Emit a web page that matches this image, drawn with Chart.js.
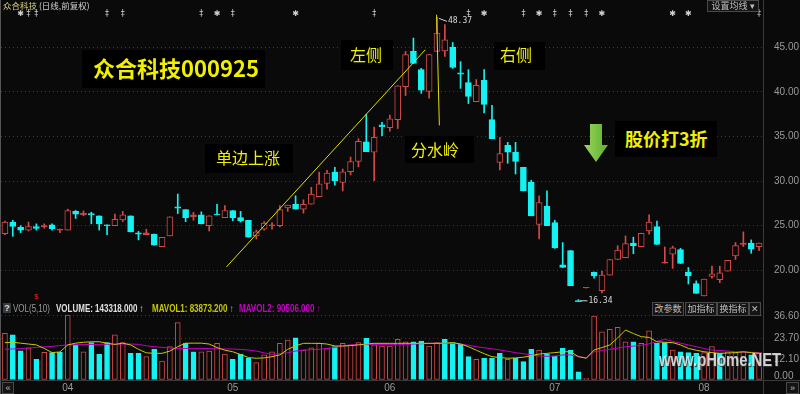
<!DOCTYPE html>
<html lang="zh">
<head>
<meta charset="utf-8">
<title>众合科技 000925</title>
<script src="https://cdn.jsdelivr.net/npm/chart.js@4.4.1/dist/chart.umd.min.js"></script>
<style>
  html, body { margin: 0; padding: 0; background: #0a0a0a; }
  #wrap { position: relative; width: 800px; height: 394px; overflow: hidden; background: #0a0a0a;
          font-family: "Liberation Sans", Arial, sans-serif; }
  #wrap canvas { position: absolute; left: 0; }
  #precio { top: 0; }
  #volumen { top: 300px; }
  .txt { position: absolute; white-space: nowrap; line-height: 1; }
  .cjk { font-family: "Noto Sans CJK SC", sans-serif; }
  .caja { position: absolute; background: #000; }
  .amarillo { color: #f0f000; }
  .btn { position: absolute; top: 302px; height: 12px; border: 1px solid #4a4a4a; background: #141414;
         color: #bdbdbd; font: 9px "Noto Sans CJK SC", sans-serif; line-height: 12px; text-align: center; }
  .linea { position: absolute; background: #3a3a3a; }
  .volhdr { position: absolute; top: 304px; font: bold 10px "Liberation Sans", Arial, sans-serif;
            white-space: nowrap; line-height: 10px; transform: scaleX(0.8); transform-origin: left top; }
</style>
</head>
<body>
<div id="wrap">
  <canvas id="precio" width="800" height="310"></canvas>
  <canvas id="volumen" width="800" height="94"></canvas>

  <!-- marco -->
  <div class="linea" style="left:763px; top:0; width:1px; height:394px;"></div>
  <div class="linea" style="left:0; top:0; width:1px; height:394px; background:#555;"></div>
  <div class="linea" style="left:0; top:380px; width:800px; height:1px;"></div>

  <!-- cabecera -->
  <div class="txt cjk" style="left:3px; top:1px; font-size:8.5px; color:#d6d27a;">众合科技 <span style="color:#cfcfcf;">(日线,前复权)</span></div>
  <div class="btn" style="left:707px; top:0; width:50px; height:10px; line-height:10px;">设置均线 ▾</div>

  <!-- anotaciones -->
  <div class="caja" style="left:82px; top:50px; width:183px; height:38px;"></div>
  <div class="txt cjk amarillo" style="left:93px; top:56px; font-size:22px; font-weight:bold;">众合科技000925</div>
  <div class="caja" style="left:341px; top:40px; width:52px; height:30px;"></div>
  <div class="txt cjk amarillo" style="left:350px; top:46px; font-size:16px;">左侧</div>
  <div class="caja" style="left:494px; top:42px; width:51px; height:28px;"></div>
  <div class="txt cjk amarillo" style="left:500px; top:46px; font-size:16px;">右侧</div>
  <div class="caja" style="left:205px; top:144px; width:88px; height:29px;"></div>
  <div class="txt cjk amarillo" style="left:216px; top:149px; font-size:16px;">单边上涨</div>
  <div class="caja" style="left:405px; top:136px; width:69px; height:27px;"></div>
  <div class="txt cjk amarillo" style="left:411px; top:141px; font-size:16px;">分水岭</div>
  <div class="caja" style="left:615px; top:121px; width:102px; height:36px;"></div>
  <div class="txt cjk amarillo" style="left:625px; top:129px; font-size:18px; font-weight:bold;">股价打3折</div>
  <svg style="position:absolute; left:584px; top:124px;" width="25" height="40">
    <defs><linearGradient id="g" x1="0" x2="1"><stop offset="0" stop-color="#9ad65a"/><stop offset="1" stop-color="#5fae2e"/></linearGradient></defs>
    <polygon points="6,0 18,0 18,21 24,21 12,38 0,21 6,21" fill="url(#g)"/>
  </svg>

  <!-- cabecera de volumen -->
  <div class="txt" style="left:3px; top:303px; width:8px; height:10px; background:#3a3a3a; color:#ddd; text-align:center; font:bold 9px 'Liberation Sans'; line-height:10px;">?</div>
  <div class="volhdr" style="left:13px; color:#9a9a9a; font-weight:normal;">VOL(5,10)</div>
  <div class="volhdr" style="left:56px; color:#e0e0e0;">VOLUME: 143318.000 ↑</div>
  <div class="volhdr" style="left:152px; color:#c8c800;">MAVOL1: 83873.200 ↑</div>
  <div class="volhdr" style="left:239px; color:#c800c8;">MAVOL2: 90506.000 ↑</div>
  <div class="btn" style="left:652px; width:30px;">改参数</div>
  <div class="btn" style="left:685px; width:30px;">加指标</div>
  <div class="btn" style="left:717px; width:30px;">换指标</div>
  <div class="btn" style="left:749px; width:10px; font-family:'Liberation Sans';">✕</div>
  <div class="txt" style="left:774px; top:371px; font-size:10px; color:#9a9a9a;">0.00</div>
  <div class="txt" style="left:659px; top:349px; font:bold 19px 'Liberation Sans',sans-serif; color:rgba(255,255,255,0.78); text-shadow:1px 1px 1px #333; transform:scaleX(0.78); transform-origin:left top;">www.pHome.NET</div>

  <!-- botones inferiores -->
  <div class="btn" style="left:2px; top:382px; width:10px; height:10px; line-height:10px; font-family:'Liberation Sans';">«</div>
  <div class="btn" style="left:786px; top:382px; width:11px; height:10px; line-height:10px; font-family:'Liberation Sans';">»</div>
</div>

<script>
// --- DATOS ---
const mesEtiquetas = ['04', '05', '06', '07', '08'];
const mesIndices = [8, 29, 49, 70, 89];

const aperturas = [
  24.1, 25.4, 24.8, 24.5, 24.9, 24.85, 25.1, 24.5, 24.5, 26.6,
  26.2, 26.35, 26.1, 25.1, 25.0, 25.65, 26.1, 24.2, 24.0, 24.05,
  22.65, 23.85, 27.1, 26.8, 26.0, 26.2, 25.0, 26.3, 25.9, 26.7,
  25.9, 25.6, 23.85, 24.6, 25.0, 25.0, 27.0, 27.4, 26.85, 27.4,
  28.25, 29.75, 31.0, 29.85, 31.05, 32.2, 34.4, 33.25, 36.3, 36.0,
  36.9, 40.6, 44.55, 42.5, 40.05, 44.55, 44.6, 45.05, 42.15, 41.05,
  38.9, 41.3, 36.9, 32.1, 34.0, 33.25, 31.55, 29.85, 25.15, 27.2,
  25.35, 20.6, 22.2, 16.6, 18.0, 19.8, 17.7, 19.45, 21.2, 21.4,
  23.05, 22.65, 24.4, 24.9, 20.8, 21.8, 22.3, 19.8, 18.5, 17.1,
  19.3, 18.95, 19.9, 21.6, 22.9, 23.05, 22.65
];
const maximos = [
  25.5, 25.6, 25.0, 25.4, 25.2, 25.2, 25.2, 24.6, 26.85, 26.7,
  26.65, 26.5, 26.1, 25.1, 26.3, 26.6, 26.1, 24.35, 24.6, 24.05,
  23.7, 26.0, 28.55, 26.8, 26.5, 26.55, 26.1, 27.4, 27.25, 26.7,
  26.6, 25.6, 24.5, 25.45, 25.35, 27.25, 27.3, 28.35, 27.9, 29.3,
  31.0, 31.2, 31.55, 31.35, 32.7, 34.75, 37.5, 36.05, 36.6, 37.4,
  40.7, 44.55, 46.05, 42.65, 44.2, 48.37, 47.55, 45.55, 43.4, 42.5,
  41.4, 42.5, 38.5, 34.9, 34.35, 34.35, 31.55, 30.1, 28.35, 28.9,
  25.6, 23.1, 22.2, 16.7, 18.08, 19.8, 19.9, 21.2, 22.75, 23.85,
  23.7, 24.15, 26.2, 25.5, 22.6, 22.7, 22.45, 20.3, 18.8, 19.0,
  20.45, 20.45, 21.1, 23.1, 24.3, 23.4, 23.05
];
const minimos = [
  24.0, 23.8, 24.2, 24.4, 24.5, 24.7, 24.5, 24.2, 24.5, 25.8,
  26.1, 25.2, 24.5, 24.0, 25.0, 25.45, 24.3, 23.4, 24.0, 22.8,
  22.65, 23.85, 26.35, 25.45, 25.6, 25.2, 24.4, 26.2, 25.9, 25.55,
  25.4, 23.7, 23.5, 24.5, 24.6, 24.85, 26.6, 26.85, 26.4, 27.4,
  28.25, 29.1, 29.55, 28.9, 30.7, 31.6, 33.3, 30.05, 35.1, 35.6,
  35.9, 39.6, 43.2, 39.85, 39.3, 44.55, 44.0, 42.65, 40.4, 38.7,
  38.9, 37.65, 34.75, 31.25, 32.0, 30.8, 28.9, 26.1, 23.5, 25.0,
  22.45, 20.3, 18.25, 16.34, 18.0, 19.1, 17.45, 19.45, 21.2, 21.4,
  21.85, 22.65, 24.05, 22.9, 20.8, 20.2, 20.75, 18.45, 17.4, 17.1,
  19.1, 18.6, 19.9, 21.2, 22.65, 21.9, 22.2
];
const cierres = [
  25.4, 24.9, 24.5, 24.9, 24.7, 25.0, 24.65, 24.6, 26.7, 26.3,
  26.4, 26.2, 25.2, 25.0, 25.7, 26.2, 24.3, 24.05, 24.2, 22.8,
  23.7, 26.0, 26.95, 25.9, 26.2, 25.2, 26.1, 26.2, 26.7, 25.9,
  25.55, 23.7, 24.3, 25.3, 25.1, 26.8, 27.3, 26.85, 27.4, 28.55,
  29.7, 30.9, 30.05, 31.05, 32.2, 34.45, 33.3, 34.9, 36.1, 37.0,
  40.7, 44.2, 43.2, 40.2, 44.2, 46.6, 45.85, 42.75, 42.0, 39.5,
  40.75, 38.6, 34.75, 33.1, 33.25, 32.2, 28.9, 26.1, 27.6, 25.0,
  22.5, 20.3, 18.25, 16.44, 18.08, 19.35, 19.45, 21.2, 22.25, 23.0,
  22.75, 24.15, 25.4, 22.9, 20.9, 22.5, 20.75, 19.35, 17.4, 19.0,
  19.6, 19.7, 21.1, 22.75, 23.05, 22.35, 23.05
];

// volumen (escala del eje derecho) y color de cada barra (1 = rojo, 0 = cian)
const volumenes = [
  26.6, 25.7, 16.7, 18.4, 11.8, 15.8, 15.6, 15.8, 37.0, 20.0,
  16.1, 21.3, 14.6, 21.3, 25.7, 21.3, 15.2, 15.2, 13.3, 17.5,
  10.8, 19.0, 32.7, 20.9, 16.1, 16.1, 16.5, 20.9, 14.8, 11.8,
  14.8, 12.4, 9.9, 14.3, 16.1, 20.9, 22.8, 24.1, 17.1, 18.4,
  20.9, 18.0, 19.0, 20.9, 20.0, 21.3, 23.8, 20.0, 19.4, 19.4,
  23.2, 21.8, 21.8, 22.2, 19.4, 21.3, 23.2, 21.3, 20.5, 13.3,
  11.8, 12.4, 12.4, 15.2, 11.8, 12.4, 10.5, 17.5, 17.1, 14.6,
  13.7, 18.0, 17.1, 4.7, 1.0, 36.5, 27.5, 28.9, 30.0, 21.8,
  21.8, 20.9, 28.1, 20.9, 21.3, 17.1, 16.1, 15.6, 15.2, 15.6,
  19.0, 15.2, 16.1, 15.6, 16.1, 14.3, 15.6
];
const volumenRojo = [
  1, 0, 0, 1, 0, 1, 0, 0, 1, 0,
  1, 0, 0, 0, 1, 1, 0, 0, 1, 0,
  1, 1, 1, 0, 0, 1, 1, 1, 1, 0,
  0, 0, 1, 1, 1, 1, 1, 0, 1, 1,
  1, 1, 0, 1, 1, 1, 0, 1, 1, 1,
  1, 1, 0, 0, 1, 1, 0, 0, 0, 0,
  1, 0, 0, 0, 1, 0, 0, 0, 1, 0,
  0, 0, 0, 0, 1, 1, 1, 1, 1, 1,
  0, 1, 1, 0, 0, 1, 0, 0, 0, 1,
  1, 0, 1, 1, 1, 0, 1
];
const mavol1 = [
  21.3, 21.5, 21.0, 20.5, 20.0, 18.0, 15.6, 16.0, 20.0, 21.0,
  21.5, 21.8, 21.8, 21.0, 20.3, 21.0, 20.0, 17.5, 15.5, 15.2,
  15.2, 16.5, 19.0, 21.0, 21.0, 21.0, 20.5, 18.5, 17.0, 16.1,
  14.5, 12.8, 12.4, 12.6, 13.3, 14.3, 17.5, 19.5, 20.9, 20.9,
  20.9, 20.5, 19.4, 19.4, 19.6, 20.0, 20.5, 20.9, 20.9, 20.9,
  20.9, 20.9, 20.9, 20.9, 20.9, 20.9, 21.0, 21.3, 20.5, 19.0,
  17.0, 15.0, 13.3, 12.8, 12.4, 12.6, 13.0, 13.8, 14.8, 15.2,
  15.6, 16.1, 16.1, 13.3, 12.4, 17.1, 18.5, 20.0, 24.0, 28.5,
  26.5, 24.7, 24.3, 21.8, 21.5, 21.3, 20.0, 18.0, 17.0, 16.1,
  15.6, 15.2, 15.4, 15.6, 16.1, 15.6, 15.2
];
const mavol2 = [
  17.5, 17.7, 17.9, 18.2, 18.6, 18.9, 19.2, 19.6, 20.0, 20.1,
  20.2, 20.3, 20.3, 20.4, 20.4, 20.5, 20.5, 20.3, 19.5, 19.0,
  18.6, 18.2, 18.0, 18.0, 18.0, 18.0, 17.9, 17.8, 17.7, 17.7,
  17.4, 17.1, 16.5, 15.5, 14.6, 15.0, 15.5, 16.5, 17.1, 17.3,
  17.5, 18.0, 18.6, 19.3, 20.0, 20.3, 20.3, 20.3, 20.3, 20.3,
  20.3, 20.3, 20.5, 20.7, 20.9, 20.9, 20.9, 20.9, 20.5, 19.8,
  19.0, 18.4, 17.8, 17.1, 16.4, 15.6, 15.0, 14.3, 13.7, 13.5,
  13.7, 14.3, 14.3, 13.5, 12.6, 16.1, 16.8, 17.5, 18.2, 19.0,
  19.3, 19.8, 20.6, 22.0, 23.2, 22.0, 21.0, 20.0, 19.0, 18.0,
  17.1, 16.8, 16.5, 16.1, 15.9, 15.8, 15.6
];

const ticksPrecio = [20, 25, 30, 35, 40, 45];
const ticksVolumen = [0, 12.1, 23.7, 36.6];

// marcas de informacion en la fila superior
const marcasEstrella = [2, 27, 37, 61, 68, 76, 85, 87];
const marcasCruz = [3, 4, 13, 15, 25, 29, 47, 59, 66, 70, 72, 74, 96];

// lineas dibujadas a mano sobre el grafico: [indice, precio]
const lineaIzquierda = [[28.2, 20.37], [53.5, 44.73]];
const lineaDivisoria = [[54.95, 48.67], [55.3, 36.25]];
const idxMaximo = 55;
const idxMinimo = 73;

document.addEventListener('DOMContentLoaded', function() {
    const ROJO = '#d44a46';
    const CIAN = '#14f2f2';
    const FONDO = '#0a0a0a';
    const REJILLA = '#3a3a3a';

    Chart.defaults.font.family = '"Liberation Sans", Arial, sans-serif';
    Chart.defaults.animation = false;

    const etiquetas = aperturas.map((_, i) => i);
    const sube = aperturas.map((o, i) => cierres[i] >= o);

    // sin relleno extra por las etiquetas de los extremos
    const sinRelleno = s => { s.paddingTop = 0; s.paddingBottom = 0; s.paddingLeft = 0; s.paddingRight = 0; };

    // --- PLUGIN DE ANOTACIONES DEL PANEL DE PRECIO ---
    const anotaciones = {
        id: 'anotaciones',
        afterDatasetsDraw(chart) {
            const { ctx, scales: { x, y } } = chart;
            ctx.save();
            // lineas amarillas
            ctx.strokeStyle = '#e2e200';
            ctx.lineWidth = 1;
            [lineaIzquierda, lineaDivisoria].forEach(l => {
                ctx.beginPath();
                ctx.moveTo(x.getPixelForValue(l[0][0]), y.getPixelForValue(l[0][1]));
                ctx.lineTo(x.getPixelForValue(l[1][0]), y.getPixelForValue(l[1][1]));
                ctx.stroke();
            });
            // marcas superiores
            ctx.fillStyle = '#d0d0d0';
            ctx.textAlign = 'center';
            ctx.textBaseline = 'middle';
            ctx.font = '8px "DejaVu Sans"';
            marcasEstrella.forEach(i => ctx.fillText('✱', x.getPixelForValue(i), 14));
            marcasCruz.forEach(i => ctx.fillText('‡', x.getPixelForValue(i), 14));
            // maximo y minimo
            ctx.strokeStyle = '#cfcfcf';
            ctx.fillStyle = '#d8d8d8';
            ctx.font = '8px "DejaVu Sans Mono"';
            ctx.textAlign = 'left';
            const px = x.getPixelForValue(idxMaximo), py = y.getPixelForValue(maximos[idxMaximo]);
            ctx.beginPath(); ctx.moveTo(px + 2, py + 1); ctx.lineTo(px + 10, py + 4); ctx.stroke();
            ctx.fillText(maximos[idxMaximo].toFixed(2), px + 11, py + 4);
            const qx = x.getPixelForValue(idxMinimo), qy = y.getPixelForValue(minimos[idxMinimo]);
            ctx.beginPath(); ctx.moveTo(qx + 2, qy - 2); ctx.lineTo(qx + 9, qy - 2); ctx.stroke();
            ctx.fillText(minimos[idxMinimo].toFixed(2), qx + 10, qy - 2);
            // marca roja inferior
            ctx.fillStyle = '#e01010';
            ctx.font = 'bold 8px "Liberation Sans"';
            ctx.textAlign = 'center';
            ctx.fillText('$', x.getPixelForValue(4), 297);
            ctx.restore();
        }
    };

    // --- GRAFICO DE VELAS ---
    new Chart(document.getElementById('precio').getContext('2d'), {
        type: 'bar',
        data: {
            labels: etiquetas,
            datasets: [{
                label: 'mecha',
                data: maximos.map((h, i) => [minimos[i], h]),
                backgroundColor: sube.map(s => s ? ROJO : CIAN),
                barThickness: 1,
                grouped: false,
                order: 2
            }, {
                label: 'cuerpo',
                data: aperturas.map((o, i) => [o, cierres[i]]),
                backgroundColor: aperturas.map((o, i) => sube[i] ? (cierres[i] - o < 0.25 ? ROJO : FONDO) : CIAN),
                borderColor: sube.map(s => s ? ROJO : CIAN),
                borderWidth: 1,
                borderSkipped: false,
                barThickness: 6,
                grouped: false,
                order: 1
            }]
        },
        options: {
            responsive: false,
            layout: { padding: { left: 1, top: 10, right: 0, bottom: 8 } },
            plugins: { legend: { display: false }, tooltip: { enabled: false } },
            scales: {
                x: { type: 'category', offset: true, display: false },
                y: {
                    position: 'right',
                    min: 16.43,
                    max: 49.2,
                    afterFit: s => { s.width = 37; sinRelleno(s); },
                    afterBuildTicks: s => { s.ticks = ticksPrecio.map(v => ({ value: v })); },
                    grid: { color: REJILLA, drawTicks: false },
                    border: { display: false, dash: [1, 3] },
                    ticks: { color: '#9a9a9a', font: { size: 10 }, padding: 11, callback: v => v.toFixed(2) }
                }
            }
        },
        plugins: [anotaciones]
    });

    // --- GRAFICO DE VOLUMEN ---
    new Chart(document.getElementById('volumen').getContext('2d'), {
        type: 'bar',
        data: {
            labels: etiquetas,
            datasets: [{
                type: 'line',
                label: 'MAVOL1',
                data: mavol1,
                borderColor: '#c8c800',
                borderWidth: 1,
                pointRadius: 0,
                order: 1
            }, {
                type: 'line',
                label: 'MAVOL2',
                data: mavol2,
                borderColor: '#c000c0',
                borderWidth: 1,
                pointRadius: 0,
                order: 1
            }, {
                label: 'VOLUME',
                data: volumenes,
                backgroundColor: volumenRojo.map(r => r ? FONDO : CIAN),
                borderColor: volumenRojo.map(r => r ? ROJO : CIAN),
                borderWidth: 1,
                borderSkipped: false,
                barThickness: 5,
                order: 2
            }]
        },
        options: {
            responsive: false,
            layout: { padding: { left: 1, top: 13, right: 0, bottom: 0 } },
            plugins: { legend: { display: false }, tooltip: { enabled: false } },
            scales: {
                x: {
                    type: 'category',
                    offset: true,
                    afterFit: s => { s.height = 14; sinRelleno(s); },
                    grid: { display: false, drawTicks: false },
                    border: { display: false },
                    ticks: {
                        autoSkip: false,
                        maxRotation: 0,
                        color: '#9a9a9a',
                        font: { size: 10 },
                        padding: 2,
                        callback: (v, i) => {
                            const k = mesIndices.indexOf(i);
                            return k >= 0 ? mesEtiquetas[k] : '';
                        }
                    }
                },
                y: {
                    position: 'right',
                    min: 0,
                    max: 38.2,
                    afterFit: s => { s.width = 37; sinRelleno(s); },
                    afterBuildTicks: s => { s.ticks = ticksVolumen.map(v => ({ value: v })); },
                    grid: {
                        drawTicks: false,
                        color: c => (c.tick && c.tick.value > 20) ? REJILLA : 'rgba(0,0,0,0)'
                    },
                    border: { display: false, dash: [1, 3] },
                    // el 0.00 se escribe aparte, un poco mas arriba
                    ticks: { color: '#9a9a9a', font: { size: 10 }, padding: 11, callback: v => v === 0 ? '' : v.toFixed(2) }
                }
            }
        }
    });
});
</script>
</body>
</html>
